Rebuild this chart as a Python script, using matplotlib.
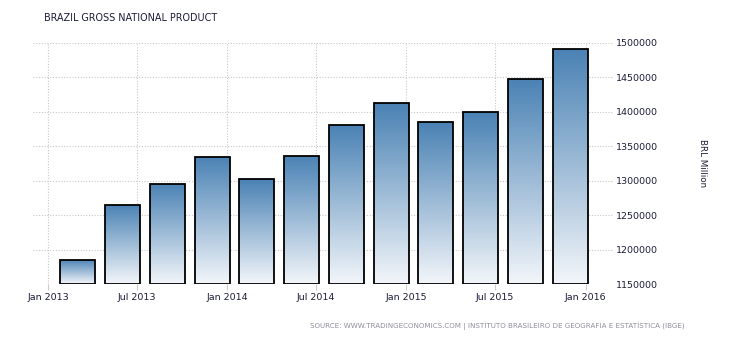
import datetime as dt
import numpy as np
import matplotlib
matplotlib.use("Agg")
import matplotlib.pyplot as plt
import matplotlib.dates as mdates
from matplotlib.colors import LinearSegmentedColormap
from matplotlib.patches import Rectangle

# quarterly GNP, BRL million
quarters = ["2013-03-01", "2013-06-01", "2013-09-01", "2013-12-01",
            "2014-03-01", "2014-06-01", "2014-09-01", "2014-12-01",
            "2015-03-01", "2015-06-01", "2015-09-01", "2015-12-01"]
gnp = [1185000, 1264500, 1295000, 1334000,
       1302000, 1335500, 1380500, 1412000,
       1384500, 1399000, 1447000, 1490500]
xtick_dates = ["2013-01-01", "2013-07-01", "2014-01-01", "2014-07-01",
               "2015-01-01", "2015-07-01", "2016-01-01"]
xtick_labels = ["Jan 2013", "Jul 2013", "Jan 2014", "Jul 2014",
                "Jan 2015", "Jul 2015", "Jan 2016"]
yticks = [1150000, 1200000, 1250000, 1300000, 1350000, 1400000, 1450000, 1500000]

to_num = lambda s: mdates.date2num(dt.datetime.strptime(s, "%Y-%m-%d"))
xq = [to_num(q) for q in quarters]
xt = [to_num(d) for d in xtick_dates]

fig = plt.figure(figsize=(7.3, 3.4), dpi=100)
ax = fig.add_axes([33 / 730, 1 - 284.3 / 340, 580 / 730, 241.6 / 340])

ymin, ymax = 1150000, 1500000

cmap = LinearSegmentedColormap.from_list("bar", ["#f3f6fa", "#4a82b4"])
grad = np.linspace(0, 1, 256).reshape(-1, 1)
width = 71
for x, v in zip(xq, gnp):
    x0 = x - width / 2
    im = ax.imshow(grad, cmap=cmap, origin="lower", aspect="auto",
                   extent=[x0, x0 + width, ymin, v], zorder=2)
    rect = Rectangle((x0, ymin), width, v - ymin, fill=False,
                     edgecolor="black", linewidth=1.3, zorder=3)
    ax.add_patch(rect)
    im.set_clip_path(rect)
ax.set_xlim(xt[0] - 31, xt[-1] + 56)
ax.set_ylim(ymin, ymax)

ax.set_xticks(xt)
ax.set_xticklabels(xtick_labels)
ax.set_yticks(yticks)
ax.yaxis.tick_right()
ax.yaxis.set_major_formatter(matplotlib.ticker.FuncFormatter(lambda v, p: "%d" % v))
ax.tick_params(axis="y", length=0, pad=2, labelsize=6.8, labelcolor="#1c1c3a")
ax.tick_params(axis="x", length=4, color="#cccccc", pad=2, labelsize=6.8,
               labelcolor="#1c1c3a")
ax.grid(True, linestyle=(0, (1, 1.5)), color="#c8c8c8", linewidth=0.8, zorder=0)
ax.set_axisbelow(True)
for s in ax.spines.values():
    s.set_visible(False)

fig.text(44 / 730, 1 - 18 / 340, "BRAZIL GROSS NATIONAL PRODUCT", fontsize=6.9,
         color="#1c1c3a", va="center", ha="left")
fig.text(702 / 730, 1 - 163 / 340, "BRL Million", rotation=-90, fontsize=6.3,
         color="#1c1c3a", va="center", ha="center")
fig.text(685 / 730, 1 - 326 / 340,
         "SOURCE: WWW.TRADINGECONOMICS.COM | INSTITUTO BRASILEIRO DE GEOGRAFIA E ESTATÍSTICA (IBGE)",
         fontsize=5.1, color="#8e8e9c", va="center", ha="right")

fig.savefig("out.png", dpi=100)
